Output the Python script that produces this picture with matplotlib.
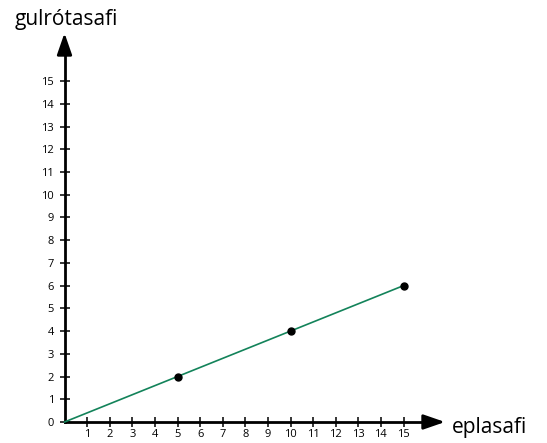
import matplotlib
matplotlib.use("Agg")
import matplotlib.pyplot as plt

x_vals = [0, 5, 10, 15]
y_vals = [0, 2, 4, 6]
pt_x = [5, 10, 15]
pt_y = [2, 4, 6]
x_ticks = list(range(1, 16))
y_ticks = list(range(0, 16))
x_label = "eplasafi"
y_label = "gulrótasafi"

plt.rcParams['font.family'] = ['Open Sans', 'DejaVu Sans']
W, H = 547, 443
fig = plt.figure(figsize=(W/100, H/100), dpi=100)
ax = fig.add_axes([0, 0, 1, 1])
ppx, ppy = 22.6, 22.73
ox, oy = 64.5, 422
ax.set_xlim(-ox/ppx, (W-ox)/ppx)
ax.set_ylim((oy-H)/ppy, oy/ppy)

for s in ['top', 'right']:
    ax.spines[s].set_visible(False)
ax.spines['left'].set_position(('data', 0))
ax.spines['bottom'].set_position(('data', 0))
ax.spines['left'].set_bounds(0, 16.6)
ax.spines['bottom'].set_bounds(0, 16.4)
for s in ['left', 'bottom']:
    ax.spines[s].set_linewidth(2.0)
ax.set_xticks(x_ticks)
ax.set_yticks(y_ticks)
ax.tick_params(direction='inout', length=7, width=1.1, labelsize=8, pad=4)
ax.tick_params(axis='x', pad=1.5)
ax.set_facecolor('none')

ax.annotate('', xy=(0, (oy-33)/ppy), xytext=(0, 16.3),
            arrowprops=dict(arrowstyle='-|>,head_length=1.3,head_width=0.45', color='black', lw=2, shrinkA=0, shrinkB=0))
ax.annotate('', xy=((445-ox)/ppx, 0), xytext=(16.1, 0),
            arrowprops=dict(arrowstyle='-|>,head_length=1.3,head_width=0.45', color='black', lw=2, shrinkA=0, shrinkB=0))

ax.plot(x_vals, y_vals, color='#13835a', lw=1.2, zorder=3)
ax.plot(pt_x, pt_y, 'o', color='black', ms=5, zorder=4)

fig.text(15/W, 1-19/H, y_label, fontsize=15, va='center', ha='left')
fig.text(452/W, 1-427/H, x_label, fontsize=15, va='center', ha='left')

fig.savefig('out.png', dpi=100)
